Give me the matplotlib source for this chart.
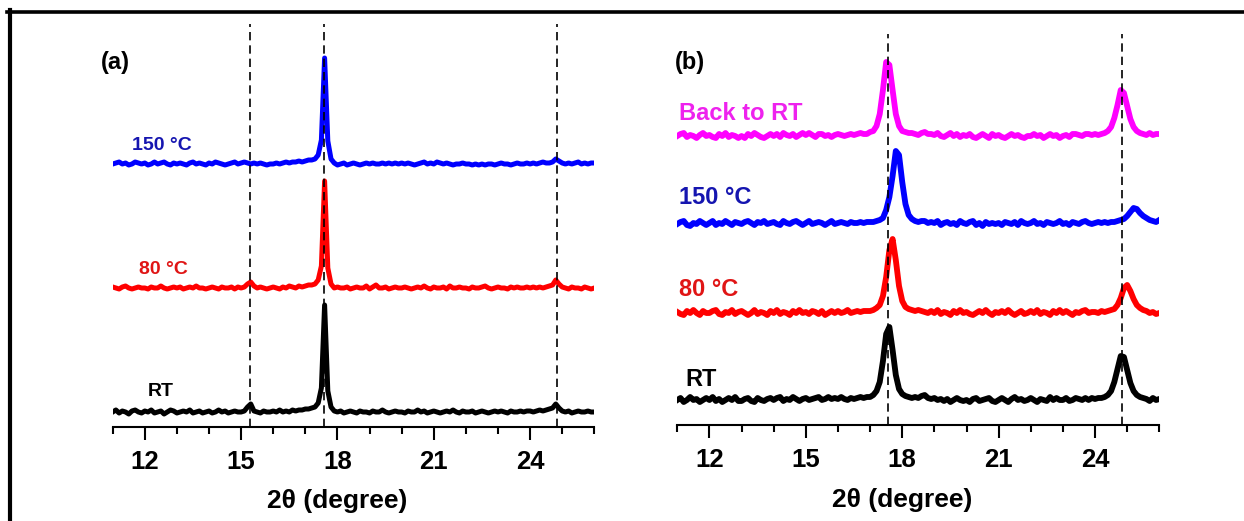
import numpy as np
import matplotlib.pyplot as plt
from matplotlib.lines import Line2D
from matplotlib.ticker import MultipleLocator

plt.rcParams['font.family'] = ['Liberation Sans', 'DejaVu Sans']
plt.rcParams['font.weight'] = 'bold'

# ----------------------------
# Data: 2-theta scan 11-26 deg, step 0.1 (rows below = one degree each)
# ----------------------------
two_theta = np.round(np.arange(11.0, 26.05, 0.1), 1)

# panel (a)
a_rt = [10, 12, 9, 11, 10, 8, 11, 12, 10, 9,
        11, 10, 12, 9, 10, 11, 8, 10, 12, 11,
        9, 10, 11, 10, 12, 9, 10, 11, 9, 10,
        11, 9, 10, 12, 10, 11, 9, 10, 11, 10,
        10, 11, 15, 18, 11, 10, 9, 11, 10, 10,
        11, 10, 12, 10, 11, 10, 12, 11, 12, 12,
        13, 13, 14, 15, 19, 34, 117, 31, 15, 11,
        10, 11, 9, 10, 11, 10, 9, 11, 10, 10,
        9, 11, 10, 10, 12, 10, 9, 10, 11, 10,
        10, 9, 11, 10, 10, 12, 10, 11, 9, 10,
        11, 10, 9, 10, 11, 10, 12, 10, 9, 11,
        10, 10, 11, 9, 10, 11, 10, 9, 10, 11,
        10, 11, 10, 9, 11, 10, 10, 11, 10, 11,
        11, 10, 11, 12, 11, 12, 13, 14, 18, 14,
        11, 10, 11, 9, 10, 11, 10, 10, 11, 10,
        10]
a_80 = [11, 10, 9, 11, 12, 10, 9, 10, 11, 10,
        10, 9, 11, 10, 10, 12, 10, 9, 10, 11,
        10, 11, 9, 10, 11, 10, 12, 10, 10, 9,
        10, 11, 10, 9, 11, 10, 10, 11, 9, 11,
        10, 11, 14, 16, 12, 10, 11, 10, 9, 10,
        11, 10, 9, 11, 10, 12, 11, 10, 12, 11,
        12, 13, 13, 14, 18, 32, 117, 30, 14, 10,
        11, 10, 10, 11, 9, 10, 11, 10, 10, 12,
        9, 11, 13, 10, 10, 11, 9, 10, 11, 10,
        10, 11, 10, 9, 10, 11, 10, 12, 10, 9,
        11, 10, 10, 11, 9, 12, 10, 10, 11, 10,
        10, 9, 11, 10, 10, 11, 12, 10, 9, 10,
        11, 10, 10, 9, 11, 10, 11, 10, 10, 11,
        10, 11, 10, 11, 10, 11, 12, 13, 18, 14,
        11, 10, 9, 11, 10, 10, 9, 11, 10, 9,
        10]
a_150 = [10, 11, 12, 10, 11, 9, 10, 12, 11, 10,
         11, 9, 10, 12, 10, 11, 12, 10, 9, 11,
         10, 11, 10, 9, 11, 12, 10, 11, 10, 9,
         11, 10, 12, 11, 10, 9, 10, 11, 12, 10,
         11, 12, 11, 10, 11, 10, 11, 10, 9, 10,
         10, 11, 10, 11, 12, 11, 12, 12, 13, 12,
         13, 14, 14, 15, 19, 34, 116, 33, 15, 11,
         9, 10, 11, 9, 10, 11, 10, 9, 10, 11,
         10, 11, 10, 10, 11, 10, 11, 10, 11, 10,
         11, 10, 11, 10, 9, 10, 11, 12, 10, 11,
         10, 12, 11, 10, 11, 10, 9, 10, 10, 11,
         10, 10, 9, 10, 9, 10, 9, 10, 10, 9,
         10, 11, 10, 10, 9, 10, 11, 10, 10, 11,
         10, 11, 10, 11, 12, 11, 11, 12, 15, 13,
         11, 10, 11, 10, 11, 12, 10, 11, 10, 11,
         11]

# panel (b)
b_rt = [10, 12, 8, 10, 13, 10, 11, 8, 10, 12,
        10, 13, 9, 11, 8, 10, 12, 10, 13, 9,
        9, 11, 12, 9, 8, 12, 10, 9, 11, 12,
        10, 12, 13, 9, 11, 10, 13, 11, 9, 11,
        12, 10, 11, 12, 13, 10, 11, 13, 11, 12,
        11, 13, 11, 10, 12, 11, 12, 13, 12, 13,
        13, 15, 19, 28, 49, 76, 83, 60, 35, 21,
        16, 14, 13, 12, 13, 12, 14, 15, 12, 11,
        12, 10, 11, 9, 11, 8, 10, 12, 10, 9,
        10, 8, 11, 12, 9, 10, 11, 12, 9, 8,
        10, 12, 10, 8, 11, 13, 10, 11, 9, 10,
        12, 10, 8, 11, 10, 9, 13, 10, 12, 10,
        10, 12, 9, 10, 12, 11, 10, 12, 10, 12,
        11, 12, 12, 13, 15, 19, 28, 41, 54, 53,
        40, 27, 19, 15, 13, 12, 11, 9, 12, 10,
        11]
b_80 = [11, 9, 8, 12, 10, 13, 10, 8, 12, 10,
        10, 12, 13, 9, 8, 11, 10, 13, 9, 11,
        12, 10, 8, 10, 13, 9, 11, 10, 8, 12,
        10, 13, 9, 11, 10, 8, 12, 10, 13, 10,
        11, 9, 12, 11, 9, 12, 8, 10, 12, 10,
        12, 10, 11, 13, 10, 11, 12, 11, 12, 12,
        12, 13, 15, 18, 27, 46, 73, 84, 63, 37,
        22, 16, 14, 13, 12, 13, 12, 11, 10, 12,
        10, 13, 9, 11, 10, 8, 12, 10, 13, 10,
        11, 9, 8, 10, 12, 10, 13, 10, 8, 11,
        10, 12, 10, 13, 10, 8, 10, 12, 9, 10,
        12, 10, 13, 9, 11, 10, 8, 12, 10, 13,
        10, 12, 10, 8, 11, 10, 12, 13, 10, 11,
        11, 10, 12, 11, 12, 13, 14, 18, 25, 35,
        38, 32, 24, 18, 15, 13, 12, 10, 11, 9,
        10]
b_150 = [10, 12, 13, 9, 8, 11, 10, 13, 11, 9,
         11, 13, 9, 11, 10, 13, 11, 9, 12, 11,
         10, 12, 13, 11, 9, 12, 11, 13, 10, 11,
         12, 10, 9, 13, 11, 10, 12, 13, 11, 9,
         11, 13, 10, 11, 12, 11, 9, 11, 13, 10,
         11, 12, 11, 10, 12, 11, 11, 12, 11, 12,
         12, 12, 13, 14, 16, 24, 37, 58, 83, 79,
         52, 30, 19, 15, 13, 12, 13, 13, 11, 12,
         11, 13, 9, 11, 12, 10, 11, 9, 13, 11,
         10, 12, 13, 9, 11, 8, 12, 10, 11, 10,
         11, 9, 12, 11, 10, 12, 9, 13, 11, 10,
         11, 13, 10, 11, 9, 12, 11, 10, 11, 13,
         10, 11, 9, 12, 11, 10, 12, 13, 11, 10,
         11, 12, 11, 12, 11, 12, 12, 13, 14, 15,
         18, 22, 26, 25, 21, 18, 16, 14, 13, 12,
         14]
b_back = [10, 12, 13, 9, 11, 10, 8, 11, 13, 10,
          11, 9, 8, 12, 10, 13, 9, 11, 10, 8,
          10, 8, 12, 10, 13, 11, 9, 8, 10, 12,
          10, 12, 9, 13, 11, 10, 12, 9, 11, 13,
          11, 13, 11, 9, 12, 12, 10, 11, 9, 11,
          12, 11, 10, 11, 12, 11, 12, 13, 12, 12,
          14, 15, 20, 32, 56, 84, 81, 56, 32, 20,
          15, 14, 13, 13, 12, 11, 13, 14, 12, 12,
          11, 13, 10, 9, 11, 13, 10, 12, 9, 11,
          10, 12, 9, 8, 10, 12, 10, 8, 12, 10,
          11, 9, 8, 10, 12, 10, 11, 9, 8, 10,
          10, 12, 10, 11, 8, 10, 12, 10, 11, 8,
          10, 11, 9, 12, 12, 11, 10, 12, 12, 11,
          12, 11, 12, 13, 15, 19, 28, 41, 56, 53,
          40, 27, 19, 15, 13, 12, 11, 13, 11, 12,
          12]

# reference peak positions (dashed guides)
a_guides = [15.27, 17.59, 24.83]
b_guides = [17.55, 24.85]

# ----------------------------
# Styles / stacking
# ----------------------------
a_traces = [
    # data, offset, line colour, label, label x, label y, text colour
    (a_rt, 5, "black", "RT", 12.51, 35, "black"),
    (a_80, 129, "#FF0000", "80 \u00b0C", 12.57, 158, "#E01515"),
    (a_150, 253, "#0000FF", "150 \u00b0C", 12.54, 282, "#1515B0"),
]
b_traces = [
    (b_rt, 15, "black", "RT", 11.25, 46, "black"),
    (b_80, 102, "#FF0000", "80 \u00b0C", 11.05, 136, "#E01515"),
    (b_150, 191, "#0000FF", "150 \u00b0C", 11.05, 228, "#1515B0"),
    (b_back, 279, "#FF00FF", "Back to RT", 11.05, 311, "#EE22EE"),
]

W, H = 1244, 521
fig = plt.figure(figsize=(W / 100, H / 100), dpi=100)

# outer frame (top and left edges visible in the original)
fig.add_artist(Line2D([7 / W, 1], [1 - 11.5 / H, 1 - 11.5 / H], color="black", lw=2.6))
fig.add_artist(Line2D([9.5 / W, 9.5 / W], [0, 1 - 10 / H], color="black", lw=3.0))


def setup_axis(ax, ytop, xlab_y):
    ax.set_xlim(11, 26)
    ax.set_ylim(0, ytop)
    for side in ["left", "right", "top"]:
        ax.spines[side].set_visible(False)
    ax.spines["bottom"].set_linewidth(1.5)
    ax.set_yticks([])
    ax.xaxis.set_major_locator(MultipleLocator(3))
    ax.xaxis.set_minor_locator(MultipleLocator(1))
    ax.tick_params(axis="x", which="major", direction="out", length=9.5, width=1.5,
                   labelsize=18.5, pad=7)
    ax.tick_params(axis="x", which="minor", direction="out", length=4.8, width=1.5)
    ax.set_xlabel("2\u03b8 (degree)", fontsize=19, fontweight="bold")
    ax.xaxis.label.set_verticalalignment("center")
    ax.xaxis.set_label_coords((18 - 11) / 15, xlab_y)
    ax.patch.set_alpha(0)


# ----------------------------
# Panel (a)
# ----------------------------
ax_a = fig.add_axes([112.7 / W, 1 - 427 / H, 481.6 / W, 415 / H])
setup_axis(ax_a, 415, -0.178)
for data, off, col, lab, lx, ly, tcol in a_traces:
    ax_a.plot(two_theta, np.array(data) + off, color=col, lw=3.6, solid_joinstyle="round")
    ax_a.text(lx, ly, lab, color=tcol, fontsize=14, fontweight="bold", ha="center", va="center")
ax_a.vlines(a_guides, 0, 403, colors="black", linestyles=(0, (5, 3)), lw=1.2, zorder=5)
ax_a.text(11.07, 365, "(a)", fontsize=17, fontweight="bold", ha="center", va="center")

# ----------------------------
# Panel (b)
# ----------------------------
ax_b = fig.add_axes([677.3 / W, 1 - 425 / H, 482 / W, 413 / H])
setup_axis(ax_b, 413, -0.182)
for data, off, col, lab, lx, ly, tcol in b_traces:
    ax_b.plot(two_theta, np.array(data) + off, color=col, lw=4.2, solid_joinstyle="round")
    ax_b.text(lx, ly, lab, color=tcol, fontsize=17, fontweight="bold", ha="left", va="center")
ax_b.vlines(b_guides, 0, 391, colors="black", linestyles=(0, (5, 3)), lw=1.2, zorder=5)
ax_b.text(11.40, 363, "(b)", fontsize=17, fontweight="bold", ha="center", va="center")

plt.savefig("out.png", dpi=100)
plt.close()
